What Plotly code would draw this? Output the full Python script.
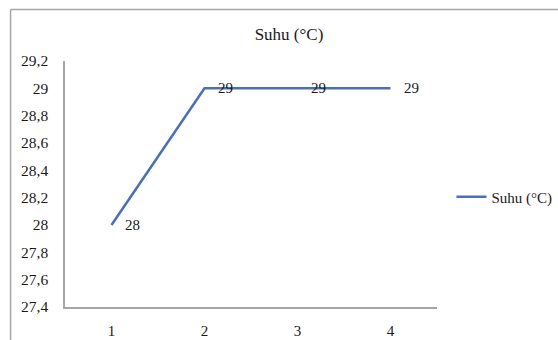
import plotly.graph_objects as go

# Temperature readings per measurement
categories = [1, 2, 3, 4]
suhu = [28, 29, 29, 29]
series_name = "Suhu (°C)"
y_ticks = [27.4, 27.6, 27.8, 28.0, 28.2, 28.4, 28.6, 28.8, 29.0, 29.2]

W, H = 558, 340
L, R, T, B = 65, 120.5, 61, 33
pw, ph = W - L - R, H - T - B

line_color = "#4a6fb8"
axis_color = "#a6a6a6"
font_family = "Liberation Serif"
text_color = "#1a1a1a"

fig = go.Figure()
fig.add_trace(go.Scatter(
    x=categories, y=suhu, mode="lines", name=series_name,
    line=dict(color=line_color, width=2.5),
))

# Value labels to the right of each point
for xv, yv in zip(categories, suhu):
    fig.add_annotation(
        x=xv, y=yv, text=f"{yv:g}".replace(".", ","), showarrow=False,
        xanchor="left", yanchor="middle", xshift=11,
        font=dict(family=font_family, size=15, color=text_color),
    )

# Outer chart frame (top and left edges visible)
fx0 = (10.5 - L) / pw
fy1 = 1 + (T - 9.5) / ph
fig.add_shape(type="line", xref="paper", yref="paper",
              x0=fx0, x1=2, y0=fy1, y1=fy1,
              line=dict(color=axis_color, width=1.5))
fig.add_shape(type="line", xref="paper", yref="paper",
              x0=fx0, x1=fx0, y0=fy1, y1=-1,
              line=dict(color=axis_color, width=1.5))

fig.update_layout(
    template="none",
    width=W, height=H,
    margin=dict(l=L, r=R, t=T, b=B, pad=0, autoexpand=False),
    paper_bgcolor="white", plot_bgcolor="white",
    separators=", ",
    font=dict(family=font_family, size=15, color=text_color),
    title=dict(text=series_name, x=289 / W, xanchor="center",
               y=1 - 34 / H, yanchor="middle",
               font=dict(family=font_family, size=17, color=text_color)),
    showlegend=True,
    legend=dict(x=(452 - L) / pw, xanchor="left", y=(H - B - 197) / ph,
                yanchor="middle", bgcolor="rgba(0,0,0,0)", borderwidth=0,
                font=dict(family=font_family, size=15, color=text_color),
                itemwidth=30, tracegroupgap=0),
    xaxis=dict(range=[0.5, 4.5], tickvals=categories,
               tickfont=dict(size=15),
               showgrid=False, zeroline=False, showline=True,
               linecolor=axis_color, linewidth=1.5, ticks="",
               ticklabelstandoff=9, automargin=False, fixedrange=True),
    yaxis=dict(range=[27.4, 29.2], tickvals=y_ticks,
               tickfont=dict(size=15.5),
               showgrid=False, zeroline=False, showline=True,
               linecolor=axis_color, linewidth=1.5, ticks="",
               ticklabelstandoff=12, automargin=False, fixedrange=True),
)

fig.write_html("out.html")
